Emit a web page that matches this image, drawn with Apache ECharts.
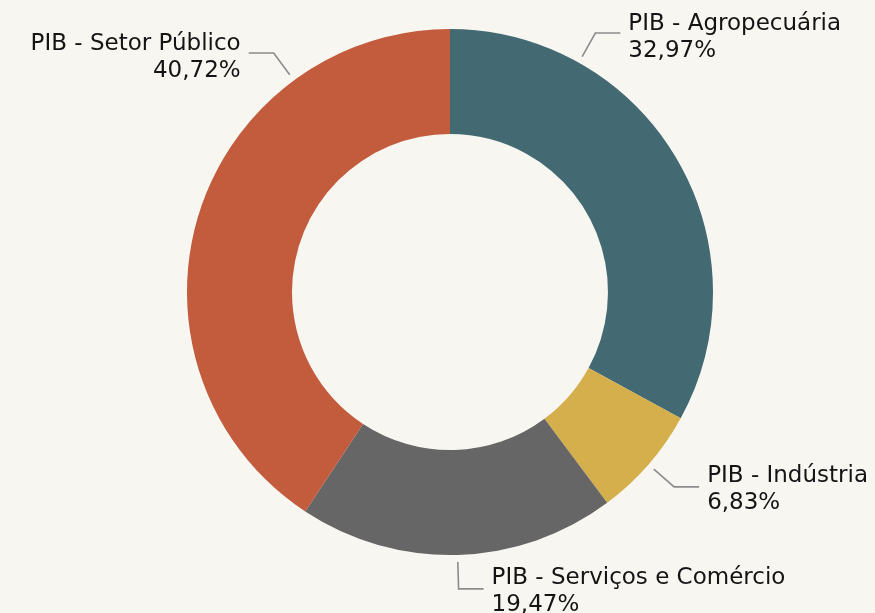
<!DOCTYPE html>
<html>
<head>
<meta charset="utf-8">
<script src="https://cdn.jsdelivr.net/npm/echarts@6/dist/echarts.min.js"></script>
<style>
  html, body { margin: 0; padding: 0; background: #f7f6f1; }
  #chart { width: 875px; height: 613px; }
</style>
</head>
<body>
<div id="chart"></div>
<script>
// Composição do PIB por setor (%)
const categories = [
  'PIB - Agropecuária',
  'PIB - Indústria',
  'PIB - Serviços e Comércio',
  'PIB - Setor Público'
];
const shares = [32.97, 6.83, 19.47, 40.72];
const colors = ['#436972', '#d4af4b', '#666666', '#c35b3d'];

// Geometry of the ring and its leader lines
const cx = 450, cy = 292;
const rInner = 158, rOuter = 263;
const lineStart = rOuter + 7;   // first leader point, just off the ring
const lineElbow = rOuter + 34;  // where the leader turns horizontal
const lineTail = 25;            // horizontal leader length
const textGap = 8;

// Labels near the top are lifted so they sit above the ring
const liftedElbowY = {
  'PIB - Agropecuária': 33,
  'PIB - Setor Público': 53
};

const total = shares.reduce((a, b) => a + b, 0);
const midAngles = [];
let acc = 0;
shares.forEach(v => {
  midAngles.push(((acc + v / 2) / total) * 2 * Math.PI);
  acc += v;
});

const fmt = v => v.toFixed(2).replace('.', ',') + '%';

const chart = echarts.init(document.getElementById('chart'), null, { renderer: 'canvas' });
chart.setOption({
  backgroundColor: '#f7f6f1',
  animation: false,
  series: [{
    type: 'pie',
    center: [cx, cy],
    radius: [rInner, rOuter],
    startAngle: 90,
    clockwise: true,
    avoidLabelOverlap: false,
    data: categories.map((name, i) => ({
      name: name,
      value: shares[i],
      itemStyle: { color: colors[i] }
    })),
    itemStyle: { borderWidth: 0 },
    label: {
      show: true,
      position: 'outside',
      formatter: p => p.name + '\n' + fmt(p.value),
      fontFamily: 'DejaVu Sans',
      fontSize: 23,
      lineHeight: 27,
      color: '#141414'
    },
    labelLine: {
      show: true,
      lineStyle: { color: '#8c8c8c', width: 1.6 }
    },
    emphasis: { disabled: true },
    labelLayout: function (p) {
      const i = p.dataIndex;
      let ang = midAngles[i];
      const lifted = liftedElbowY[categories[i]];
      if (lifted != null) {
        const a = Math.acos((cy - lifted) / lineElbow);
        ang = Math.sin(ang) >= 0 ? a : 2 * Math.PI - a;
      }
      const s = Math.sin(ang), c = Math.cos(ang);
      const right = s >= 0;
      const sx = cx + lineStart * s, sy = cy - lineStart * c;
      const ex = cx + lineElbow * s, ey = cy - lineElbow * c;
      const hx = ex + (right ? lineTail : -lineTail);
      return {
        x: hx + (right ? textGap : -textGap),
        y: ey + (lifted != null ? 5 : 3),
        align: right ? 'left' : 'right',
        verticalAlign: 'middle',
        labelLinePoints: [[sx, sy], [ex, ey], [hx, ey]]
      };
    }
  }]
});
</script>
</body>
</html>
